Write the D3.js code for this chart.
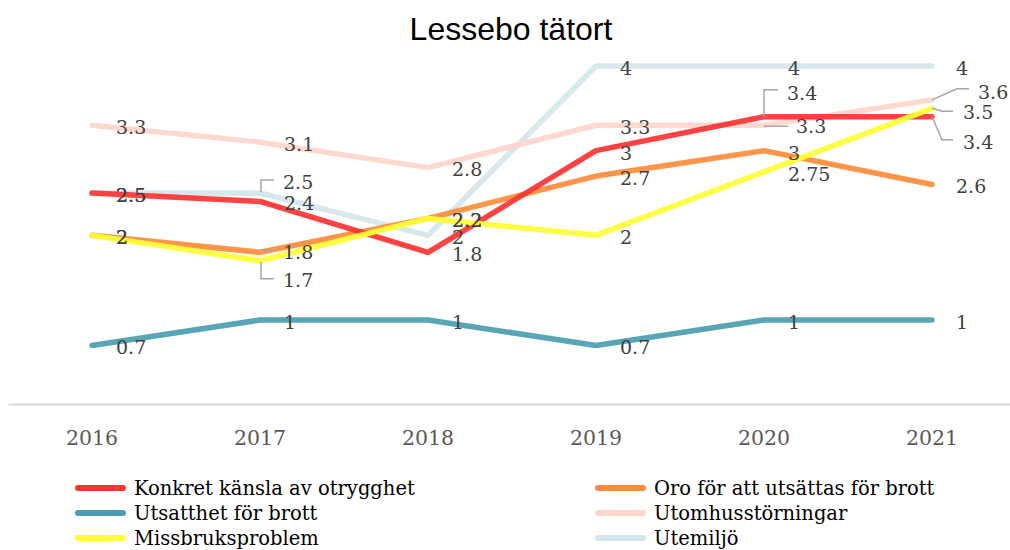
<!DOCTYPE html>
<html><head><meta charset="utf-8">
<script src="https://cdn.jsdelivr.net/npm/d3@7"></script>
<style>body{margin:0;background:#fff}svg{display:block}</style>
</head><body>
<svg id="c" width="1010" height="550"></svg>
<script>
const years = ["2016","2017","2018","2019","2020","2021"];
const seriesNames = ["Konkret känsla av otrygghet","Oro för att utsättas för brott","Utsatthet för brott","Utomhusstörningar","Missbruksproblem","Utemiljö"];
const konkret   = [2.5, 2.4, 1.8, 3, 3.4, 3.4];
const oro       = [2, 1.8, 2.2, 2.7, 3, 2.6];
const utsatthet = [0.7, 1, 1, 0.7, 1, 1];
const utomhus   = [3.3, 3.1, 2.8, 3.3, 3.3, 3.6];
const missbruk  = [2, 1.7, 2.2, 2, 2.75, 3.5];
const utemiljo  = [2.5, 2.5, 2, 4, 4, 4];
const colors = ["#ff3333","#ff8c3a","#4a9db0","#ffd6cc","#ffff33","#d4e6eb"];

const values = [konkret, oro, utsatthet, utomhus, missbruk, utemiljo];
const series = seriesNames.map((n,i)=>({name:n, values:values[i], color:colors[i], idx:i}));
const drawOrder = [5,3,2,1,0,4];

// label layout overrides (series index|point index)
const labelLayout = {
  "5|1": {dx:23, dy:-11, leader:[[1,-1],[1,-13],[14,-13]]},
  "1|1": {dx:23, dy:0, leader:[[2,-2],[15,-2]]},
  "4|1": {dx:23, dy:19, leader:[[1,1],[1,18],[14,18]]},
  "0|4": {dx:23, dy:-24, leader:[[0,0],[0,-27],[14,-27]]},
  "3|4": {dx:32, dy:1, leader:[[0,1],[24,1]]},
  "3|5": {dx:46, dy:-8, leader:[[0,0],[25,-11],[37,-11]]},
  "4|5": {dx:31, dy:4, leader:[[0,0],[10,3],[21,3]]},
  "0|5": {dx:31, dy:25, leader:[[0,0],[10,23],[21,23]]}
};

const svg = d3.select("#c");
const x = d3.scaleBand().domain(years).range([8, 1016]);
const cx = d => x(d) + x.bandwidth()/2;
const y = d3.scaleLinear().domain([0, 4]).range([404.7, 66]);

// title
svg.append("text").attr("x", 511).attr("y", 40).attr("text-anchor","middle")
  .attr("font-family","Liberation Sans, Arial, sans-serif").attr("font-size", 32)
  .attr("fill","#000").text("Lessebo tätort");

// axis
const ax = svg.append("g").attr("transform","translate(0,404)")
  .call(d3.axisBottom(x).tickSize(0).tickPadding(26));
ax.select(".domain").attr("stroke","#d9d9d9").attr("stroke-width",2);
ax.selectAll("text").attr("font-family","DejaVu Serif, serif").attr("font-size",20.5).attr("fill","#595959");

// lines
const line = d3.line().x((d,i)=>cx(years[i])).y(d=>y(d));
const lg = svg.append("g");
drawOrder.forEach(k=>{
  const s = series[k];
  lg.append("path").attr("d", line(s.values)).attr("fill","none")
    .attr("stroke", s.color).attr("stroke-width", 5.5)
    .attr("stroke-linecap","round").attr("stroke-linejoin","round")
    .attr("opacity", 0.92);
});

// labels
const labG = svg.append("g");
series.forEach(s=>{
  s.values.forEach((v,i)=>{
    const px = cx(years[i]), py = y(v);
    const lay = labelLayout[s.idx+"|"+i] || {dx:24, dy:2};
    if (lay.leader) {
      labG.append("path")
        .attr("d", d3.line()(lay.leader.map(p=>[px+p[0], py+p[1]])))
        .attr("fill","none").attr("stroke","#a6a6a6").attr("stroke-width",1.5);
    }
    labG.append("text").attr("x", px+lay.dx).attr("y", py+lay.dy).attr("dy","0.36em")
      .attr("font-family","DejaVu Serif, serif").attr("font-size",19).attr("fill","#404040")
      .text(String(v));
  });
});

// legend
const legPos = [[78,488],[598,488],[78,513],[598,513],[78,538],[598,538]];
const legG = svg.append("g");
series.forEach((s,i)=>{
  const [lx,ly] = legPos[i];
  legG.append("line").attr("x1",lx).attr("x2",lx+45).attr("y1",ly).attr("y2",ly)
    .attr("stroke",s.color).attr("stroke-width",6).attr("stroke-linecap","round");
  legG.append("text").attr("x",lx+56).attr("y",ly).attr("dy","0.34em")
    .attr("font-family","DejaVu Serif, serif").attr("font-size",19.5).attr("fill","#000")
    .text(s.name);
});
</script>
</body></html>
